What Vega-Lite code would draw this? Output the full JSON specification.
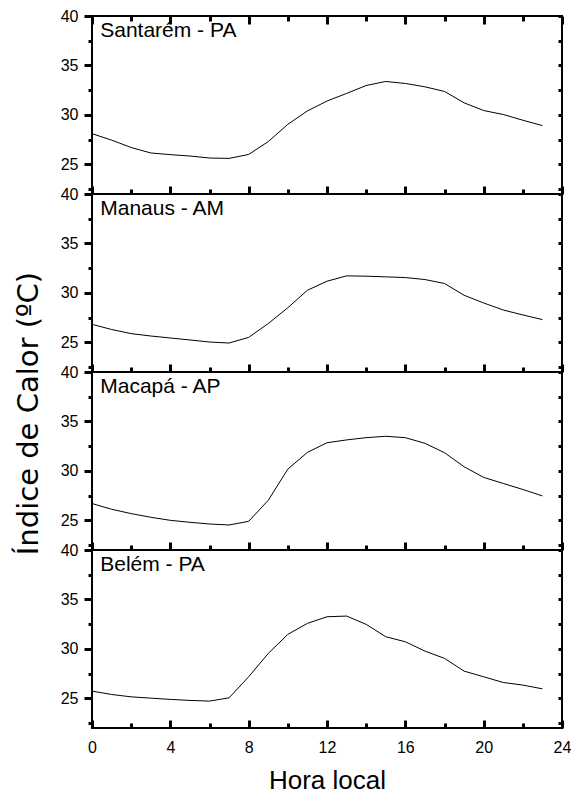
{
  "$schema": "https://vega.github.io/schema/vega-lite/v6.json",
  "padding": {"left": 12, "top": 7, "right": 0, "bottom": 0},
  "bounds": "flush",
  "spacing": 0,
  "background": "white",
  "config": {
    "view": {"stroke": "black", "strokeWidth": 2},
    "axis": {
      "domain": false, "grid": false, "ticks": true, "tickColor": "black", "tickWidth": 3,
      "labelFont": "Liberation Sans", "labelFontSize": 16, "labelColor": "black",
      "labelFlush": false, "labelOverlap": false,
      "titleFont": "Liberation Sans", "titleFontWeight": "normal", "titleColor": "black"
    }
  },
  "vconcat": [
    {
      "width": 470, "height": 178,
      "data": {"values": [
        {"hora": 0, "ic": 28.1}, {"hora": 1, "ic": 27.45}, {"hora": 2, "ic": 26.7}, {"hora": 3, "ic": 26.15}, {"hora": 4, "ic": 25.98}, {"hora": 5, "ic": 25.84}, {"hora": 6, "ic": 25.64}, {"hora": 7, "ic": 25.6}, {"hora": 8, "ic": 26.0}, {"hora": 9, "ic": 27.3}, {"hora": 10, "ic": 29.05}, {"hora": 11, "ic": 30.4}, {"hora": 12, "ic": 31.4}, {"hora": 13, "ic": 32.17}, {"hora": 14, "ic": 32.97}, {"hora": 15, "ic": 33.38}, {"hora": 16, "ic": 33.18}, {"hora": 17, "ic": 32.84}, {"hora": 18, "ic": 32.37}, {"hora": 19, "ic": 31.22}, {"hora": 20, "ic": 30.44}, {"hora": 21, "ic": 30.04}, {"hora": 22, "ic": 29.46}, {"hora": 23, "ic": 28.92}
      ]},
      "layer": [
        {"mark": {"type": "line", "color": "black", "strokeWidth": 1},
         "encoding": {
           "x": {"field": "hora", "type": "quantitative", "scale": {"domain": [0, 24], "nice": false}, "axis": {"orient": "bottom", "values": [0,4,8,12,16,20,24], "labels": false, "title": null, "offset": -8, "tickSize": 8}},
           "y": {"field": "ic", "type": "quantitative", "scale": {"domain": [22, 40], "nice": false, "zero": false}, "axis": {"orient": "left", "values": [25,30,35,40], "title": null, "labelPadding": 6, "tickSize": 8}}
         }},
        {"data": {"values": [{"city": "Santarém - PA"}]},
         "mark": {"type": "text", "align": "left", "baseline": "alphabetic", "fontSize": 21, "font": "Liberation Sans", "color": "black"},
         "encoding": {
           "x": {"datum": 0.42, "type": "quantitative", "scale": {"domain": [0, 24], "nice": false}, "axis": {"orient": "top", "values": [0,4,8,12,16,20,24], "labels": false, "title": null, "tickSize": -8}},
           "y": {"datum": 37.85, "type": "quantitative", "scale": {"domain": [22, 40], "nice": false, "zero": false}, "axis": {"orient": "right", "values": [22.5,25,27.5,30,32.5,35,37.5,40], "labels": false, "title": null, "tickSize": -4}},
           "text": {"field": "city"}
         }},
        {"data": {"values": [{"city": "Santarém - PA"}]},
         "mark": {"type": "text", "text": " "},
         "encoding": {
           "x": {"datum": 0.42, "type": "quantitative", "scale": {"domain": [0, 24], "nice": false}, "axis": {"orient": "bottom", "values": [2,6,10,14,18,22], "labels": false, "title": null, "tickSize": -5}},
           "y": {"datum": 37.85, "type": "quantitative", "scale": {"domain": [22, 40], "nice": false, "zero": false}, "axis": {"orient": "left", "values": [22.5,27.5,32.5,37.5], "labels": false, "title": null, "tickSize": 4}}
         }},
        {"data": {"values": [{"city": "Santarém - PA"}]},
         "mark": {"type": "text", "text": " "},
         "encoding": {
           "x": {"datum": 0.42, "type": "quantitative", "scale": {"domain": [0, 24], "nice": false}, "axis": {"orient": "top", "values": [2,6,10,14,18,22], "labels": false, "title": null, "tickSize": -5}},
           "y": {"datum": 37.85, "type": "quantitative", "scale": {"domain": [22, 40], "nice": false, "zero": false}, "axis": null}
         }}
      ],
      "resolve": {"axis": {"x": "independent", "y": "independent"}}
    },
    {
      "width": 470, "height": 178,
      "data": {"values": [
        {"hora": 0, "ic": 26.82}, {"hora": 1, "ic": 26.3}, {"hora": 2, "ic": 25.88}, {"hora": 3, "ic": 25.64}, {"hora": 4, "ic": 25.44}, {"hora": 5, "ic": 25.24}, {"hora": 6, "ic": 25.03}, {"hora": 7, "ic": 24.93}, {"hora": 8, "ic": 25.5}, {"hora": 9, "ic": 26.9}, {"hora": 10, "ic": 28.5}, {"hora": 11, "ic": 30.27}, {"hora": 12, "ic": 31.18}, {"hora": 13, "ic": 31.72}, {"hora": 14, "ic": 31.69}, {"hora": 15, "ic": 31.62}, {"hora": 16, "ic": 31.55}, {"hora": 17, "ic": 31.35}, {"hora": 18, "ic": 30.95}, {"hora": 19, "ic": 29.76}, {"hora": 20, "ic": 28.98}, {"hora": 21, "ic": 28.27}, {"hora": 22, "ic": 27.77}, {"hora": 23, "ic": 27.3}
      ]},
      "layer": [
        {"mark": {"type": "line", "color": "black", "strokeWidth": 1},
         "encoding": {
           "x": {"field": "hora", "type": "quantitative", "scale": {"domain": [0, 24], "nice": false}, "axis": {"orient": "bottom", "values": [0,4,8,12,16,20,24], "labels": false, "title": null, "offset": -8, "tickSize": 8}},
           "y": {"field": "ic", "type": "quantitative", "scale": {"domain": [22, 40], "nice": false, "zero": false}, "axis": {"orient": "left", "values": [25,30,35,40], "title": null, "labelPadding": 6, "tickSize": 8}}
         }},
        {"data": {"values": [{"city": "Manaus - AM"}]},
         "mark": {"type": "text", "align": "left", "baseline": "alphabetic", "fontSize": 21, "font": "Liberation Sans", "color": "black"},
         "encoding": {
           "x": {"datum": 0.42, "type": "quantitative", "scale": {"domain": [0, 24], "nice": false}, "axis": null},
           "y": {"datum": 37.85, "type": "quantitative", "scale": {"domain": [22, 40], "nice": false, "zero": false}, "axis": {"orient": "right", "values": [22.5,25,27.5,30,32.5,35,37.5,40], "labels": false, "title": null, "tickSize": -4}},
           "text": {"field": "city"}
         }},
        {"data": {"values": [{"city": "Manaus - AM"}]},
         "mark": {"type": "text", "text": " "},
         "encoding": {
           "x": {"datum": 0.42, "type": "quantitative", "scale": {"domain": [0, 24], "nice": false}, "axis": {"orient": "bottom", "values": [2,6,10,14,18,22], "labels": false, "title": null, "tickSize": -5}},
           "y": {"datum": 37.85, "type": "quantitative", "scale": {"domain": [22, 40], "nice": false, "zero": false}, "axis": {"orient": "left", "values": [22.5,27.5,32.5,37.5], "labels": false, "title": null, "tickSize": 4}}
         }}
      ],
      "resolve": {"axis": {"x": "independent", "y": "independent"}}
    },
    {
      "width": 470, "height": 178,
      "data": {"values": [
        {"hora": 0, "ic": 26.7}, {"hora": 1, "ic": 26.12}, {"hora": 2, "ic": 25.68}, {"hora": 3, "ic": 25.31}, {"hora": 4, "ic": 25.0}, {"hora": 5, "ic": 24.8}, {"hora": 6, "ic": 24.63}, {"hora": 7, "ic": 24.53}, {"hora": 8, "ic": 24.9}, {"hora": 9, "ic": 27.03}, {"hora": 10, "ic": 30.18}, {"hora": 11, "ic": 31.87}, {"hora": 12, "ic": 32.85}, {"hora": 13, "ic": 33.13}, {"hora": 14, "ic": 33.36}, {"hora": 15, "ic": 33.5}, {"hora": 16, "ic": 33.36}, {"hora": 17, "ic": 32.79}, {"hora": 18, "ic": 31.84}, {"hora": 19, "ic": 30.42}, {"hora": 20, "ic": 29.34}, {"hora": 21, "ic": 28.73}, {"hora": 22, "ic": 28.12}, {"hora": 23, "ic": 27.47}
      ]},
      "layer": [
        {"mark": {"type": "line", "color": "black", "strokeWidth": 1},
         "encoding": {
           "x": {"field": "hora", "type": "quantitative", "scale": {"domain": [0, 24], "nice": false}, "axis": {"orient": "bottom", "values": [0,4,8,12,16,20,24], "labels": false, "title": null, "offset": -8, "tickSize": 8}},
           "y": {"field": "ic", "type": "quantitative", "scale": {"domain": [22, 40], "nice": false, "zero": false}, "axis": {"orient": "left", "values": [25,30,35,40], "labelPadding": 6, "tickSize": 8,
             "title": "Índice de Calor (ºC)", "titleFont": "DejaVu Sans", "titleFontSize": 29, "titleAngle": -90, "titleAlign": "center", "titleBaseline": "alphabetic", "titleX": -55, "titleY": 41}}
         }},
        {"data": {"values": [{"city": "Macapá - AP"}]},
         "mark": {"type": "text", "align": "left", "baseline": "alphabetic", "fontSize": 21, "font": "Liberation Sans", "color": "black"},
         "encoding": {
           "x": {"datum": 0.42, "type": "quantitative", "scale": {"domain": [0, 24], "nice": false}, "axis": null},
           "y": {"datum": 37.85, "type": "quantitative", "scale": {"domain": [22, 40], "nice": false, "zero": false}, "axis": {"orient": "right", "values": [22.5,25,27.5,30,32.5,35,37.5,40], "labels": false, "title": null, "tickSize": -4}},
           "text": {"field": "city"}
         }},
        {"data": {"values": [{"city": "Macapá - AP"}]},
         "mark": {"type": "text", "text": " "},
         "encoding": {
           "x": {"datum": 0.42, "type": "quantitative", "scale": {"domain": [0, 24], "nice": false}, "axis": {"orient": "bottom", "values": [2,6,10,14,18,22], "labels": false, "title": null, "tickSize": -5}},
           "y": {"datum": 37.85, "type": "quantitative", "scale": {"domain": [22, 40], "nice": false, "zero": false}, "axis": {"orient": "left", "values": [22.5,27.5,32.5,37.5], "labels": false, "title": null, "tickSize": 4}}
         }}
      ],
      "resolve": {"axis": {"x": "independent", "y": "independent"}}
    },
    {
      "width": 470, "height": 178,
      "data": {"values": [
        {"hora": 0, "ic": 25.73}, {"hora": 1, "ic": 25.39}, {"hora": 2, "ic": 25.15}, {"hora": 3, "ic": 25.02}, {"hora": 4, "ic": 24.89}, {"hora": 5, "ic": 24.79}, {"hora": 6, "ic": 24.72}, {"hora": 7, "ic": 25.05}, {"hora": 8, "ic": 27.18}, {"hora": 9, "ic": 29.54}, {"hora": 10, "ic": 31.47}, {"hora": 11, "ic": 32.58}, {"hora": 12, "ic": 33.25}, {"hora": 13, "ic": 33.32}, {"hora": 14, "ic": 32.48}, {"hora": 15, "ic": 31.23}, {"hora": 16, "ic": 30.72}, {"hora": 17, "ic": 29.78}, {"hora": 18, "ic": 29.04}, {"hora": 19, "ic": 27.75}, {"hora": 20, "ic": 27.18}, {"hora": 21, "ic": 26.6}, {"hora": 22, "ic": 26.34}, {"hora": 23, "ic": 25.96}
      ]},
      "layer": [
        {"mark": {"type": "line", "color": "black", "strokeWidth": 1},
         "encoding": {
           "x": {"field": "hora", "type": "quantitative", "scale": {"domain": [0, 24], "nice": false}, "axis": {"orient": "bottom", "values": [0,4,8,12,16,20,24], "labelPadding": 11, "offset": -8, "tickSize": 8,
             "title": "Hora local", "titleFontSize": 26, "titlePadding": 12}},
           "y": {"field": "ic", "type": "quantitative", "scale": {"domain": [22, 40], "nice": false, "zero": false}, "axis": {"orient": "left", "values": [25,30,35,40], "title": null, "labelPadding": 6, "tickSize": 8}}
         }},
        {"data": {"values": [{"city": "Belém - PA"}]},
         "mark": {"type": "text", "align": "left", "baseline": "alphabetic", "fontSize": 21, "font": "Liberation Sans", "color": "black"},
         "encoding": {
           "x": {"datum": 0.42, "type": "quantitative", "scale": {"domain": [0, 24], "nice": false}, "axis": null},
           "y": {"datum": 37.85, "type": "quantitative", "scale": {"domain": [22, 40], "nice": false, "zero": false}, "axis": {"orient": "right", "values": [22.5,25,27.5,30,32.5,35,37.5,40], "labels": false, "title": null, "tickSize": -4}},
           "text": {"field": "city"}
         }},
        {"data": {"values": [{"city": "Belém - PA"}]},
         "mark": {"type": "text", "text": " "},
         "encoding": {
           "x": {"datum": 0.42, "type": "quantitative", "scale": {"domain": [0, 24], "nice": false}, "axis": {"orient": "bottom", "values": [2,6,10,14,18,22], "labels": false, "title": null, "tickSize": -5}},
           "y": {"datum": 37.85, "type": "quantitative", "scale": {"domain": [22, 40], "nice": false, "zero": false}, "axis": {"orient": "left", "values": [22.5,27.5,32.5,37.5], "labels": false, "title": null, "tickSize": 4}}
         }}
      ],
      "resolve": {"axis": {"x": "independent", "y": "independent"}}
    }
  ]
}
